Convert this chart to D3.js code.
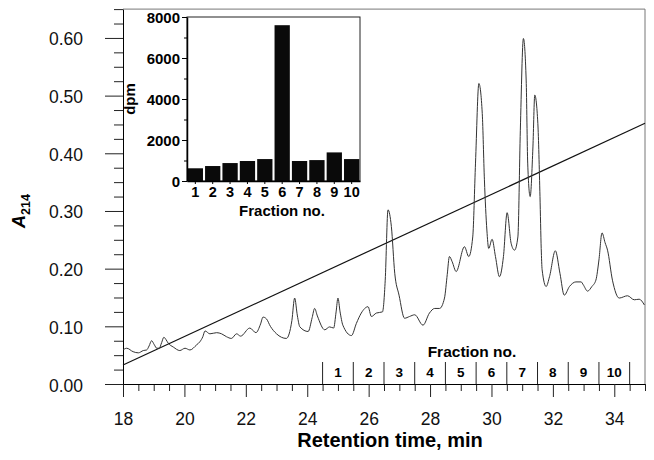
<!DOCTYPE html>
<meta charset="utf-8">
<script src="https://d3js.org/d3.v7.min.js"></script>
<title>Retention time chromatogram</title>
<style>
body { margin: 0; background: #fff; }
svg { font-family: "Liberation Sans", Arial, sans-serif; }
</style>
<svg width="654" height="460"></svg>
<script>

// chromatogram trace, A214 vs retention time (min)
var times = [18.00, 18.12, 18.33, 18.50, 18.66, 18.77, 18.85, 18.93, 19.02, 19.10, 19.18, 19.26, 19.33, 19.40, 19.47,
  19.64, 19.85, 20.02, 20.18, 20.40, 20.50, 20.60, 20.67, 20.83, 21.05, 21.21, 21.37, 21.53, 21.70, 21.83,
  22.13, 22.33, 22.48, 22.56, 22.67, 22.80, 23.00, 23.32, 23.50, 23.59, 23.68, 23.76, 24.03, 24.16, 24.24, 24.33,
  24.57, 24.73, 24.86, 24.94, 25.00, 25.07, 25.16, 25.44, 25.60, 25.76, 25.98, 26.09, 26.25, 26.45, 26.54,
  26.63, 26.74, 26.85, 26.99, 27.17, 27.33, 27.50, 27.77, 27.98, 28.15, 28.31, 28.47, 28.56, 28.63, 28.72,
  28.85, 29.12, 29.26, 29.39, 29.48, 29.59, 29.70, 29.77, 29.85, 29.91, 30.02, 30.13, 30.26, 30.39, 30.51,
  30.64, 30.75, 30.86, 30.94, 31.04, 31.13, 31.18, 31.26, 31.35, 31.41, 31.51, 31.58, 31.62, 31.65, 31.78,
  31.89, 32.08, 32.23, 32.37, 32.54, 32.75, 32.92, 32.99, 33.13, 33.27, 33.40, 33.50, 33.60, 33.70, 33.78,
  33.94, 34.16, 34.43, 34.65, 34.81, 34.98];
var absorb = [0.059, 0.062, 0.056, 0.054, 0.058, 0.059, 0.066, 0.075, 0.068, 0.062, 0.062, 0.072, 0.081, 0.077, 0.071,
  0.064, 0.058, 0.062, 0.059, 0.068, 0.073, 0.082, 0.092, 0.087, 0.089, 0.087, 0.082, 0.079, 0.087, 0.083,
  0.097, 0.089, 0.104, 0.116, 0.113, 0.100, 0.087, 0.079, 0.110, 0.149, 0.118, 0.099, 0.091, 0.115, 0.131, 0.118,
  0.094, 0.099, 0.097, 0.125, 0.149, 0.125, 0.102, 0.084, 0.105, 0.123, 0.134, 0.117, 0.123, 0.125, 0.180,
  0.302, 0.273, 0.192, 0.154, 0.114, 0.117, 0.120, 0.102, 0.123, 0.131, 0.131, 0.149, 0.190, 0.221, 0.212,
  0.195, 0.238, 0.221, 0.255, 0.383, 0.521, 0.469, 0.354, 0.267, 0.235, 0.251, 0.221, 0.186, 0.221, 0.297,
  0.244, 0.232, 0.255, 0.440, 0.599, 0.527, 0.383, 0.325, 0.411, 0.501, 0.452, 0.325, 0.235, 0.198, 0.169,
  0.186, 0.231, 0.192, 0.154, 0.169, 0.177, 0.177, 0.172, 0.161, 0.169, 0.180, 0.215, 0.262, 0.245, 0.232,
  0.180, 0.149, 0.153, 0.146, 0.147, 0.137];

// gradient line end points
var gradTimes = [18, 35];
var gradValues = [0.033, 0.452];

// collected fractions (boundaries in min)
var fractionEdges = [24.5, 25.5, 26.5, 27.5, 28.5, 29.5, 30.5, 31.5, 32.5, 33.5, 34.5];
var fractions = ["1", "2", "3", "4", "5", "6", "7", "8", "9", "10"];

// inset: radioactivity per fraction
var dpm = [620, 730, 875, 975, 1070, 7600, 975, 1020, 1395, 1070];

// axis ticks
var xMajor = [18, 20, 22, 24, 26, 28, 30, 32, 34];
var yMajor = [0.00, 0.10, 0.20, 0.30, 0.40, 0.50, 0.60];
var insetTicks = [0, 2000, 4000, 6000, 8000];

var svg = d3.select("svg");

var x = d3.scaleLinear().domain([18, 35]).range([123, 645]);
var y = d3.scaleLinear().domain([0, 0.65]).range([384, 9.1]);

// frame (top and right)
svg.append("path")
    .attr("d", "M" + x(18) + "," + y(0.65) + "H" + x(35) + "V" + y(0))
    .attr("fill", "none")
    .attr("stroke", "#777")
    .attr("stroke-width", 1);

// x axis
var xMinor = d3.range(36).map(i => 18 + i * 0.5).filter(t => t <= 35 && xMajor.indexOf(t) < 0);
svg.append("g")
    .attr("transform", "translate(0," + y(0) + ")")
    .call(d3.axisBottom(x).tickValues(xMinor).tickSize(7).tickFormat(""))
    .call(g => g.select(".domain").remove());
var gx = svg.append("g")
    .attr("transform", "translate(0," + y(0) + ")")
    .call(d3.axisBottom(x).tickValues(xMajor).tickSize(13).tickSizeOuter(0).tickPadding(16).tickFormat(d3.format("d")));
gx.select(".domain").attr("d", "M105,0.5H" + x(35));
gx.selectAll("text").attr("font-size", 17.5).attr("font-family", null).attr("fill", "#111");

// y axis
var yMinor = d3.range(27).map(i => i * 0.025).filter(v => v <= 0.65 && yMajor.every(m => Math.abs(m - v) > 1e-6));
svg.append("g")
    .attr("transform", "translate(" + x(18) + ",0)")
    .call(d3.axisLeft(y).tickValues(yMinor).tickSize(9).tickFormat(""))
    .call(g => g.select(".domain").remove());
var gy = svg.append("g")
    .attr("transform", "translate(" + x(18) + ",0)")
    .call(d3.axisLeft(y).tickValues(yMajor).tickSize(18).tickSizeOuter(0).tickPadding(22).tickFormat(d3.format(".2f")));
gy.selectAll("text").attr("font-size", 17.5).attr("font-family", null).attr("fill", "#111").attr("dy", "0.4em");

svg.selectAll(".tick line").attr("stroke", "#222");

// axis titles
svg.append("text")
    .attr("x", 390).attr("y", 447)
    .attr("text-anchor", "middle")
    .attr("font-size", 20).attr("font-weight", "bold")
    .text("Retention time, min");

var yt = svg.append("text")
    .attr("transform", "translate(25,228) rotate(-90)")
    .attr("font-weight", "bold");
yt.append("tspan").attr("font-size", 18).attr("font-style", "italic").text("A");
yt.append("tspan").attr("font-size", 12.5).attr("dy", 5).text("214");

// gradient
svg.append("path")
    .datum(gradTimes.map((t, i) => [t, gradValues[i]]))
    .attr("fill", "none")
    .attr("stroke", "#111")
    .attr("stroke-width", 1.2)
    .attr("d", d3.line().x(d => x(d[0])).y(d => y(d[1])));

// trace
svg.append("path")
    .datum(times.map((t, i) => [t, absorb[i]]))
    .attr("fill", "none")
    .attr("stroke", "#333")
    .attr("stroke-width", 1)
    .attr("d", d3.line().curve(d3.curveMonotoneX).x(d => x(d[0])).y(d => y(d[1])));

// fraction markers
svg.append("g").selectAll("line")
    .data(fractionEdges)
    .join("line")
      .attr("x1", d => x(d)).attr("x2", d => x(d))
      .attr("y1", 362).attr("y2", y(0))
      .attr("stroke", "#222");
svg.append("g").selectAll("text")
    .data(fractions)
    .join("text")
      .attr("x", (d, i) => x((fractionEdges[i] + fractionEdges[i + 1]) / 2))
      .attr("y", 377)
      .attr("text-anchor", "middle")
      .attr("font-size", 13.5).attr("font-weight", "bold")
      .text(d => d);
svg.append("text")
    .attr("x", 472).attr("y", 356.5)
    .attr("text-anchor", "middle")
    .attr("font-size", 15.5).attr("font-weight", "bold")
    .text("Fraction no.");

// inset
var ix = d3.scaleBand().domain(fractions).range([187, 360]).paddingInner(0.12).paddingOuter(0.04);
var iy = d3.scaleLinear().domain([0, 8000]).range([181, 17]);
var inset = svg.append("g");

inset.append("rect")
    .attr("x", 187).attr("y", iy(8000))
    .attr("width", 360 - 187).attr("height", iy(0) - iy(8000))
    .attr("fill", "#fff")
    .attr("stroke", "#222").attr("stroke-width", 1);

inset.selectAll(".bar")
    .data(dpm)
    .join("rect")
      .attr("class", "bar")
      .attr("x", (d, i) => ix(fractions[i]))
      .attr("y", d => iy(d))
      .attr("width", ix.bandwidth())
      .attr("height", d => iy(0) - iy(d))
      .attr("fill", "#0a0a0a");

inset.append("g")
    .attr("transform", "translate(187,0)")
    .call(d3.axisLeft(iy).tickValues([1000, 3000, 5000, 7000]).tickSize(3).tickFormat(""))
    .call(g => g.select(".domain").remove());
var giy = inset.append("g")
    .attr("transform", "translate(187,0)")
    .call(d3.axisLeft(iy).tickValues(insetTicks).tickSize(5).tickSizeOuter(0).tickPadding(2).tickFormat(d3.format("d")));
giy.select(".domain").attr("stroke-width", 1.5);
giy.selectAll("text").attr("font-size", 15).attr("font-weight", "bold").attr("font-family", null).attr("fill", "#000").attr("dy", "0.36em");

var gix = inset.append("g")
    .attr("transform", "translate(0," + iy(0) + ")")
    .call(d3.axisBottom(ix).tickSize(3).tickSizeOuter(0).tickPadding(3));
gix.select(".domain").attr("stroke-width", 1.5);
gix.selectAll("text").attr("font-size", 14.5).attr("font-weight", "bold").attr("font-family", null).attr("fill", "#000");

inset.append("text")
    .attr("x", 282).attr("y", 216)
    .attr("text-anchor", "middle")
    .attr("font-size", 15).attr("font-weight", "bold")
    .text("Fraction no.");

inset.append("text")
    .attr("transform", "translate(135,99) rotate(-90)")
    .attr("text-anchor", "middle")
    .attr("font-size", 15).attr("font-weight", "bold")
    .text("dpm");

</script>
